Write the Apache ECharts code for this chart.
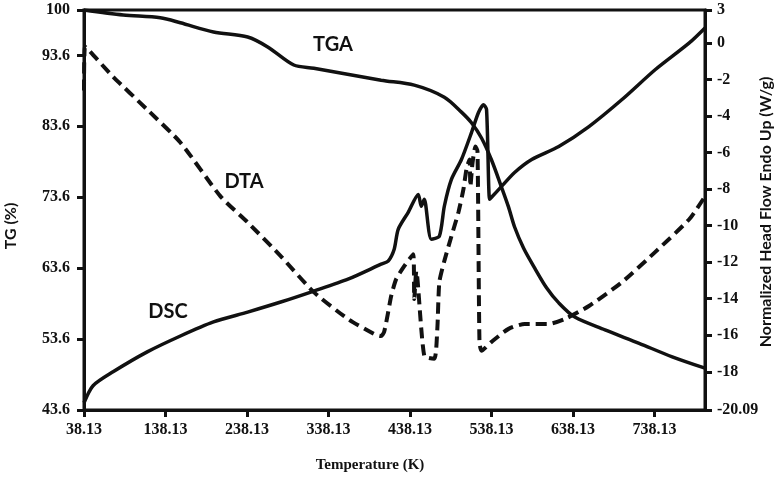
<!DOCTYPE html>
<html>
<head>
<meta charset="utf-8">
<title>TGA / DTA / DSC</title>
<script src="https://cdn.jsdelivr.net/npm/echarts@6/dist/echarts.min.js"></script>
<style>
  html, body { margin: 0; padding: 0; background: #fff; }
  #chart { width: 777px; height: 478px; }
</style>
</head>
<body>
<div id="chart"></div>
<script>
// temperature (K) and TG (%)
const tgaTemp = [38.13, 86.2, 131.7, 156.4, 197, 238.9, 263.5, 295.5, 320.1, 402.6, 443.3, 480.2, 501.2, 513.5, 525.8, 538.1, 550.4, 559, 566.4, 577.5, 591.1, 605.8, 620.6, 640.3, 677.3, 719.2, 759.8, 800];
const tgaValue = [100, 99.3, 98.9, 98.2, 96.9, 96.2, 94.8, 92.25, 91.8, 90.1, 89.4, 87.7, 85.6, 84.1, 81.95, 78.85, 75, 72.2, 69.4, 66.4, 63.6, 60.8, 58.7, 56.7, 54.9, 53, 51.1, 49.5];

// heat flow (W/g), right axis
const dscTemp = [38.13, 49.2, 73.8, 115.7, 156.4, 197, 238.9, 279.5, 320.1, 362, 402.6, 411.3, 418.7, 423.6, 435.9, 448.2, 451.9, 455.6, 464.2, 474.1, 480.2, 488.9, 501.2, 513.5, 522.1, 528.3, 532, 535.7, 538.1, 550.4, 566.4, 587.4, 620.6, 657.6, 698.2, 738.8, 780.7, 800];
const dscValue = [-19.69, -18.76, -18, -16.91, -16.04, -15.27, -14.73, -14.18, -13.58, -12.93, -12.11, -11.94, -11.29, -10.2, -9.27, -8.29, -8.94, -8.56, -10.74, -10.58, -8.94, -7.47, -6.38, -4.91, -3.81, -3.38, -3.65, -8.56, -8.45, -7.85, -7.09, -6.38, -5.67, -4.58, -3.1, -1.47, 0, 0.82];

const dtaTemp = [38.13, 39.4, 73.8, 115.7, 156.4, 205.6, 238.9, 279.5, 320.1, 362, 394, 402.6, 406.3, 411.3, 415, 421.1, 431, 442.1, 443.3, 445.8, 455.6, 467.9, 471.6, 474.1, 480.2, 488.9, 497.5, 503.6, 507.3, 511, 512.2, 514.7, 518.4, 520.9, 523.3, 525.8, 538.1, 559, 578.8, 608.3, 628, 657.6, 698.2, 738.8, 780.7, 800];
const dtaValue = [-2.6, -0.21, -1.85, -3.65, -5.45, -8.4, -9.82, -11.67, -13.64, -15.11, -15.93, -16.04, -15.82, -14.73, -13.85, -12.93, -12.22, -11.56, -14.02, -12.49, -17.13, -17.29, -15.65, -13.09, -11.94, -10.58, -9.27, -8.02, -6.92, -6.38, -7.85, -6.6, -5.67, -5.94, -16.36, -16.85, -16.36, -15.65, -15.38, -15.38, -15.11, -14.4, -13.09, -11.45, -9.65, -8.4];

// tick labels
const xTicks = [38.13, 138.13, 238.13, 338.13, 438.13, 538.13, 638.13, 738.13];
const leftTicks = [43.6, 53.6, 63.6, 73.6, 83.6, 93.6, 100];
const rightTicks = [-20.09, -18, -16, -14, -12, -10, -8, -6, -4, -2, 0, 1.8];
const rightTickLabels = ['-20.09', '-18', '-16', '-14', '-12', '-10', '-8', '-6', '-4', '-2', '0', '3'];

const zip = (xs, ys) => xs.map((x, i) => [x, ys[i]]);

const tickFont = { fontFamily: 'Liberation Serif', fontWeight: 'bold', fontSize: 16, color: '#111' };
const solid = { color: '#111', width: 3.5 };

const chart = echarts.init(document.getElementById('chart'));
chart.setOption({
  animation: false,
  backgroundColor: '#fff',
  grid: { left: 84, right: 72, top: 10, bottom: 68, show: true, borderColor: '#111', borderWidth: 3 },
  xAxis: {
    type: 'value', min: 38.13, max: 800,
    splitLine: { show: false },
    axisLine: { onZero: false, lineStyle: { color: '#111', width: 3 } },
    axisTick: { customValues: xTicks, length: 7, lineStyle: { color: '#111', width: 3 } },
    axisLabel: Object.assign({ customValues: xTicks, margin: 12, formatter: v => v.toFixed(2) }, tickFont)
  },
  yAxis: [
    {
      type: 'value', min: 43.6, max: 100,
      splitLine: { show: false },
      axisLine: { show: true, lineStyle: { color: '#111', width: 3 } },
      axisTick: { show: true, customValues: leftTicks, length: 7, lineStyle: { color: '#111', width: 3 } },
      axisLabel: Object.assign({ customValues: leftTicks, margin: 14 }, tickFont)
    },
    {
      type: 'value', min: -20.09, max: 1.8, position: 'right',
      splitLine: { show: false },
      axisLine: { show: true, lineStyle: { color: '#111', width: 3 } },
      axisTick: { show: true, customValues: rightTicks, length: 7, lineStyle: { color: '#111', width: 3 } },
      axisLabel: Object.assign({
        customValues: rightTicks, margin: 12,
        formatter: v => rightTickLabels[rightTicks.indexOf(v)] ?? ''
      }, tickFont)
    }
  ],
  series: [
    { name: 'TGA', type: 'line', yAxisIndex: 0, data: zip(tgaTemp, tgaValue), showSymbol: false,
      smooth: 0.3, lineStyle: solid },
    { name: 'DSC', type: 'line', yAxisIndex: 1, data: zip(dscTemp, dscValue), showSymbol: false,
      smooth: 0.25, lineStyle: solid },
    { name: 'DTA', type: 'line', yAxisIndex: 1, data: zip(dtaTemp, dtaValue), showSymbol: false,
      smooth: 0.2, lineStyle: { color: '#111', width: 4, type: [11, 6] } }
  ],
  graphic: [
    { type: 'text', x: 333, y: 45, style: { text: 'TGA', font: 'bold 20px Lato', fill: '#111', align: 'center', verticalAlign: 'middle' } },
    { type: 'text', x: 244, y: 182, style: { text: 'DTA', font: 'bold 20px Lato', fill: '#111', align: 'center', verticalAlign: 'middle' } },
    { type: 'text', x: 168, y: 312, style: { text: 'DSC', font: 'bold 20px Lato', fill: '#111', align: 'center', verticalAlign: 'middle' } },
    { type: 'text', x: 370, y: 465, style: { text: 'Temperature (K)', font: 'bold 15px "Liberation Serif"', fill: '#111', align: 'center', verticalAlign: 'middle' } },
    { type: 'text', x: 11, y: 226, rotation: Math.PI / 2, style: { text: 'TG (%)', font: 'bold 16px Lato', fill: '#111', align: 'center', verticalAlign: 'middle' } },
    { type: 'text', x: 766, y: 212, rotation: Math.PI / 2, style: { text: 'Normalized Head Flow Endo Up (W/g)', font: 'bold 16px Lato', fill: '#111', align: 'center', verticalAlign: 'middle' } }
  ]
});
</script>
</body>
</html>
